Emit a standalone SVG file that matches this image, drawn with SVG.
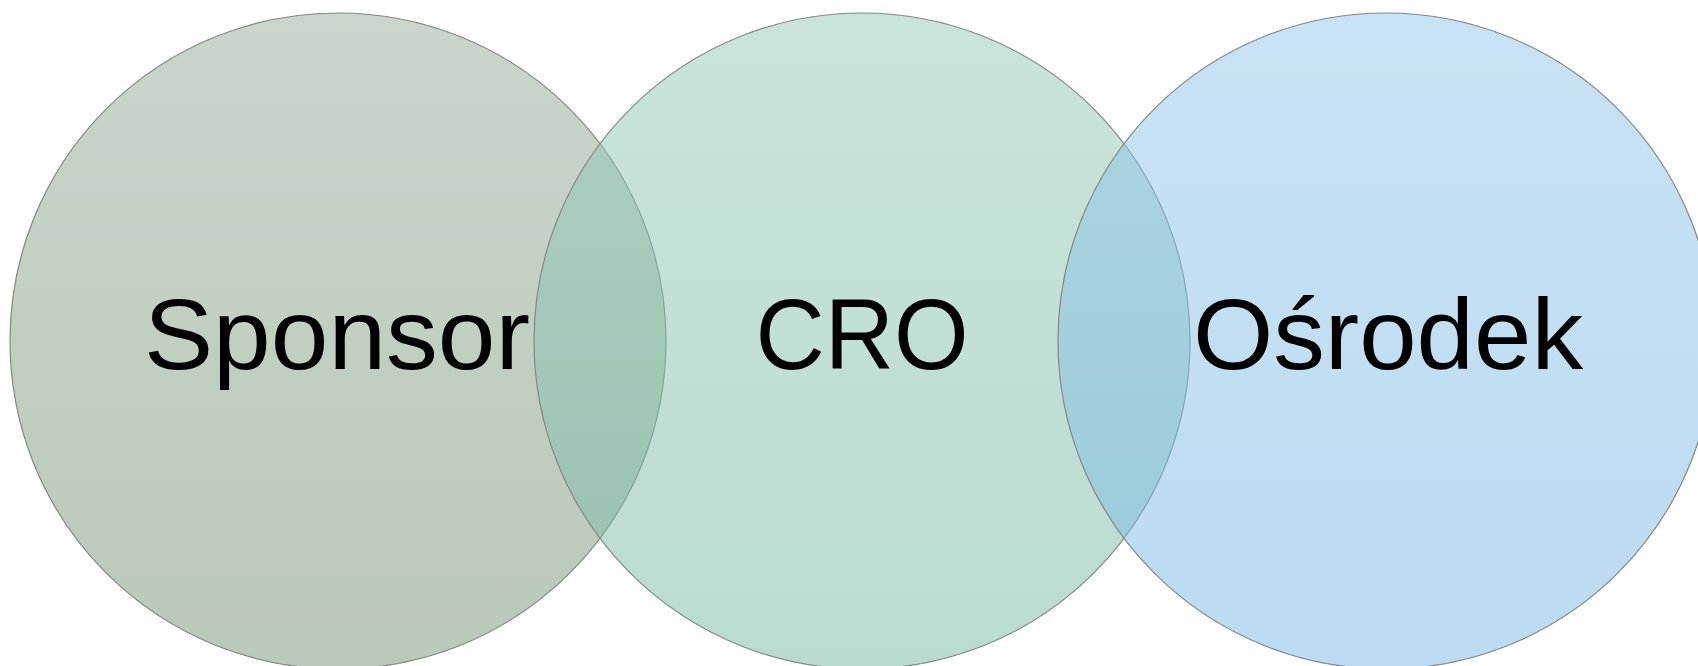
<svg xmlns="http://www.w3.org/2000/svg" width="1698" height="666" viewBox="0 0 1698 666">
<defs>
<linearGradient id="gL" x1="0" y1="0" x2="0" y2="1"><stop offset="0" stop-color="#95ab97"/><stop offset="1" stop-color="#739375"/></linearGradient>
<linearGradient id="gM" x1="0" y1="0" x2="0" y2="1"><stop offset="0" stop-color="#95c9b5"/><stop offset="1" stop-color="#75b9a1"/></linearGradient>
<linearGradient id="gR" x1="0" y1="0" x2="0" y2="1"><stop offset="0" stop-color="#93c5e9"/><stop offset="1" stop-color="#77b9e5"/></linearGradient>
</defs>
<style>
.c{fill-opacity:0.5;stroke:#868686;stroke-width:1.2}
.t{font-family:"Liberation Sans",Arial,sans-serif;font-size:100px;fill:#000;text-anchor:middle}
</style>
<rect width="1698" height="666" fill="#fff"/>
<g id="sponsor"><circle class="c" cx="338" cy="341" r="328" fill="url(#gL)"/></g>
<g id="cro"><circle class="c" cx="862" cy="341" r="328" fill="url(#gM)"/></g>
<g id="osrodek"><circle class="c" cx="1386" cy="341" r="328" fill="url(#gR)"/></g>
<g id="labels">
<text class="t" x="337" y="369" textLength="386" lengthAdjust="spacingAndGlyphs">Sponsor</text>
<text class="t" x="862" y="369" textLength="213" lengthAdjust="spacingAndGlyphs">CRO</text>
<text class="t" x="1388" y="369" textLength="390" lengthAdjust="spacingAndGlyphs">Ośrodek</text>
</g>
</svg>
